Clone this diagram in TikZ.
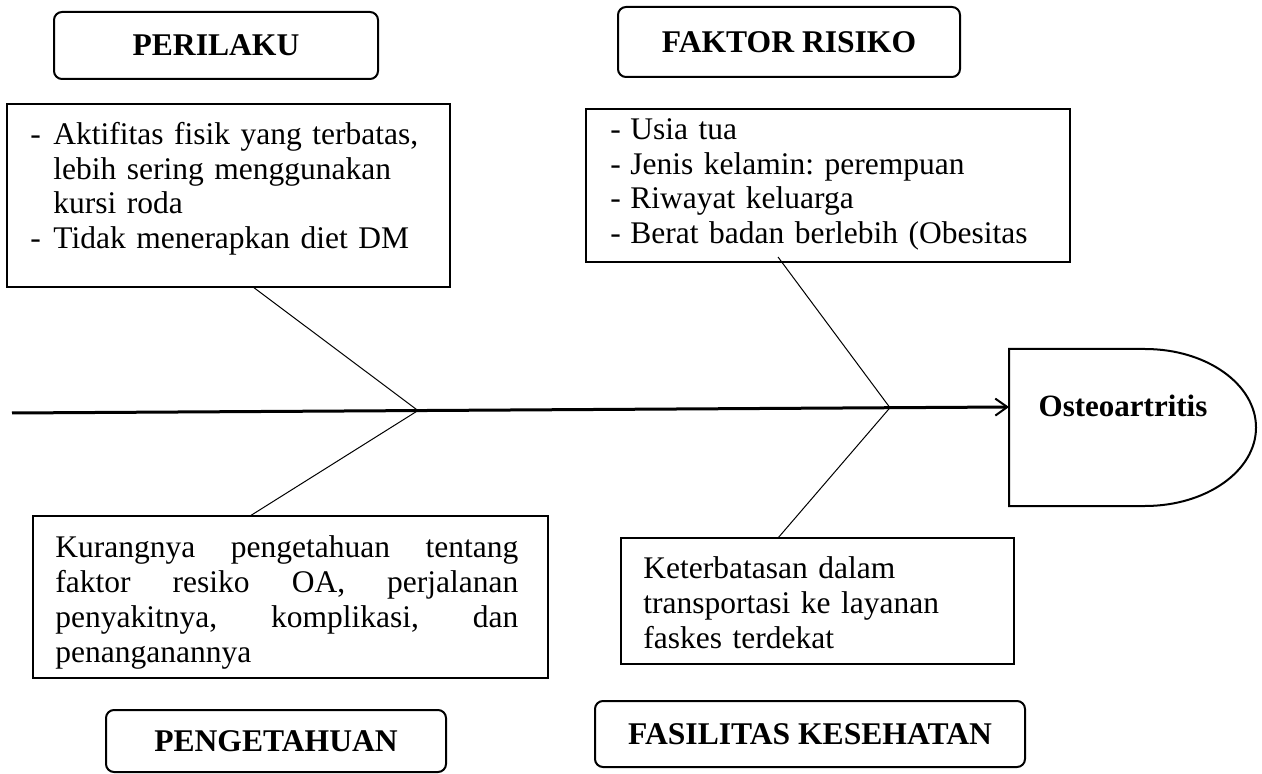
\documentclass[tikz,border=0pt]{standalone}
\usepackage{fontspec}
\setmainfont{Liberation Serif}
\usetikzlibrary{calc,arrows.meta}
\frenchspacing
\newcommand{\jline}[1]{\leavevmode\hbox to 231.5pt{#1}}
\begin{document}
\begin{tikzpicture}[x=0.5pt,y=-0.5pt,
  hdr/.style={draw,line width=1pt,rounded corners=4pt,inner sep=0pt,font=\fontsize{15.8}{17}\selectfont\bfseries},
  tbox/.style={draw,line width=1pt},
  txt/.style={inner sep=0pt,anchor=base west,align=left,text width=#1},
  bodyA/.style={font=\fontsize{15.75}{17.25}\selectfont},
  bodyB/.style={font=\fontsize{15.75}{17.5}\selectfont},
  bone/.style={line width=0.5pt},
  spine/.style={line width=1.5pt,-{Straight Barb[length=6pt,width=8.5pt,line width=1pt]}}
]
\useasboundingbox (0,0) rectangle (1262,774);

% header boxes
\node[hdr,minimum width=162pt,minimum height=33.5pt] (hPer) at (216,45.5) {PERILAKU};
\node[hdr,minimum width=171pt,minimum height=35pt] (hFak) at (789,42) {FAKTOR RISIKO};
\node[hdr,minimum width=170pt,minimum height=31pt] (hPen) at (276,741) {PENGETAHUAN};
\node[hdr,minimum width=215pt,minimum height=33pt] (hFas) at (810,734) {FASILITAS KESEHATAN};

% text boxes
\draw[tbox] (7,104) rectangle (450,287);
\node[txt=250pt,bodyA] (tPer) at (30,145) {\makebox[11.5pt][l]{-}Aktifitas fisik yang terbatas,\\\hspace*{11.5pt}lebih sering menggunakan\\\hspace*{11.5pt}kursi roda\\\makebox[11.5pt][l]{-}Tidak menerapkan diet DM};

\draw[tbox] (586,109) rectangle (1070,262);
\node[txt=250pt,bodyA] (tFak) at (610,140) {\makebox[10pt][l]{-}Usia tua\\\makebox[10pt][l]{-}Jenis kelamin: perempuan\\\makebox[10pt][l]{-}Riwayat keluarga\\\makebox[10pt][l]{-}Berat badan berlebih (Obesitas};

\draw[tbox] (33,516) rectangle (548,678);
\node[txt=240pt,bodyB] (tPen) at (55,557) {\jline{Kurangnya\hfill pengetahuan\hfill tentang}\\\jline{faktor\hfill resiko\hfill OA,\hfill perjalanan}\\\jline{penyakitnya,\hfill komplikasi,\hfill dan}\\penanganannya};

\draw[tbox] (621,538) rectangle (1014,664);
\node[txt=200pt,bodyB] (tFas) at (643,578) {Keterbatasan dalam\\transportasi ke layanan\\faskes terdekat};

% effect shape
\draw[line width=1pt] (1009,349) -- (1145,349) arc[start angle=90,end angle=-90,x radius=55.5pt,y radius=39.25pt] -- (1009,506) -- cycle;
\node[inner sep=0pt,anchor=base,font=\fontsize{15.5}{17}\selectfont\bfseries] (oa) at (1123,417) {Osteoartritis};
\coordinate (oaL) at (1009,407);

% spine
\coordinate (spS) at (12,413);
\draw[spine] (spS) -- (oaL);
\coordinate (j1) at ($(spS)!0.4072!(oaL)$);
\coordinate (j2) at ($(spS)!0.8806!(oaL)$);

% bones
\coordinate (b1) at (253,287);
\coordinate (b2) at (250,516);
\coordinate (b3) at (778,257);
\coordinate (b4) at (778,538);
\draw[bone] (b1) -- (j1) -- (b2);
\draw[bone] (b3) -- (j2) -- (b4);
\end{tikzpicture}
\end{document}
